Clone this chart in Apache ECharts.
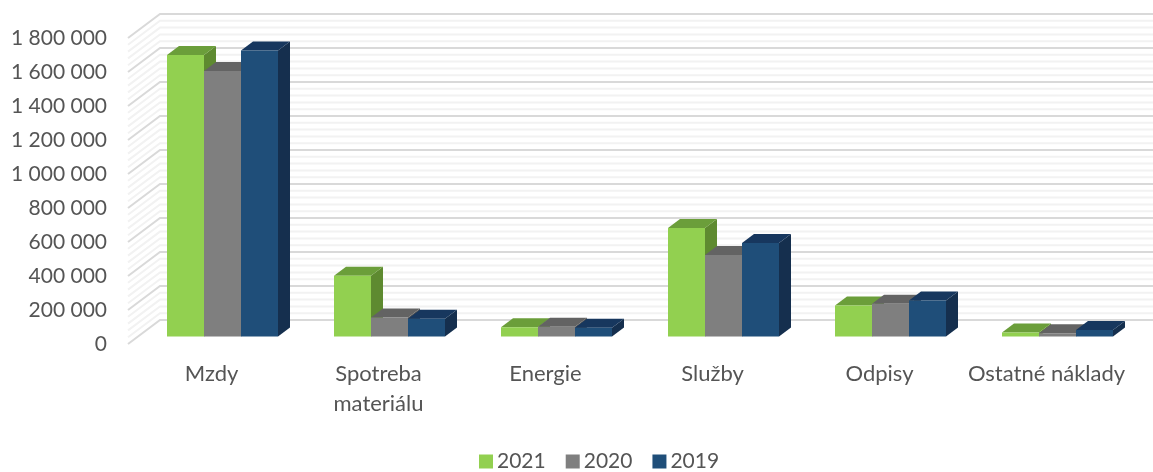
<!DOCTYPE html>
<html>
<head>
<meta charset="utf-8">
<script src="https://cdn.jsdelivr.net/npm/echarts@6/dist/echarts.min.js"></script>
<style>
html,body{margin:0;padding:0;background:#fff;}
#main{width:1153px;height:472px;}
</style>
</head>
<body>
<div id="main"></div>
<script>
var categories = ['Mzdy', 'Spotreba\nmateriálu', 'Energie', 'Služby', 'Odpisy', 'Ostatné náklady'];
var years = ['2021', '2020', '2019'];
var values2021 = [1656000, 358000, 54000, 638000, 182000, 23000];
var values2020 = [1562000, 112000, 58000, 480000, 192000, 19000];
var values2019 = [1682000, 104000, 52000, 550000, 212000, 38000];
var wallTicks = [];
for (var t = 0; t <= 1800000; t += 40000) {
    wallTicks.push(t);
}

// front, top, side colours of the fake 3d bars
var colors2021 = ['#92d050', '#6b9e3a', '#5e8a30'];
var colors2020 = ['#7f7f7f', '#636363', '#555555'];
var colors2019 = ['#1f4e79', '#17375e', '#152f4e'];

// depth of the whole box and of a bar, in pixels
var boxDx = 32, boxDy = -24;
var barDx = 12, barDy = -9;
var barShiftX = 11, barShiftY = -7.5;
var barWidth = 37;

function wallItem(params, api) {
    var sys = params.coordSys;
    var p = api.coord([0, api.value(1)]);
    var major = api.value(1) % 200000 === 0;
    var style = { stroke: major ? '#d9d9d9' : '#f2f2f2', lineWidth: 2, fill: null };
    return {
        type: 'polyline',
        shape: { points: [
            [sys.x, p[1]],
            [sys.x + boxDx, p[1] + boxDy],
            [sys.x + sys.width + boxDx, p[1] + boxDy]
        ] },
        style: style,
        silent: true
    };
}

function barRender(order, colors) {
    return function (params, api) {
        var top = api.coord([api.value(0), api.value(1)]);
        var base = api.coord([api.value(0), 0]);
        var x = top[0] + barShiftX + (order - 1.5) * barWidth;
        var y0 = top[1] + barShiftY;
        var y1 = base[1] + barShiftY;
        var x1 = x + barWidth;
        return {
            type: 'group',
            children: [
                { type: 'polygon', shape: { points: [[x1, y0], [x1 + barDx, y0 + barDy], [x1 + barDx, y1 + barDy], [x1, y1]] }, style: { fill: colors[2] } },
                { type: 'polygon', shape: { points: [[x, y0], [x + barDx, y0 + barDy], [x1 + barDx, y0 + barDy], [x1, y0]] }, style: { fill: colors[1] } },
                { type: 'rect', shape: { x: x, y: y0, width: barWidth, height: y1 - y0 }, style: { fill: colors[0] } }
            ]
        };
    };
}

function pairs(values) {
    return values.map(function (v, i) { return [i, v]; });
}

var chart = echarts.init(document.getElementById('main'));
var font = 'Lato';
var textColor = '#555555';
var option = {
    animation: false,
    backgroundColor: '#fff',
    textStyle: { fontFamily: font },
    legend: {
        data: years,
        left: 479,
        top: 451,
        padding: 0,
        itemWidth: 14,
        itemHeight: 14,
        itemGap: 20,
        icon: 'rect',
        textStyle: { color: textColor, fontSize: 21, fontFamily: font, padding: [0, 0, 0, -1] }
    },
    grid: { left: 128, top: 38, width: 1002, height: 306 },
    xAxis: {
        type: 'category',
        data: categories,
        axisLine: { show: false },
        axisTick: { show: false },
        axisLabel: { color: textColor, fontSize: 22, fontFamily: font, lineHeight: 30, margin: 15, interval: 0 }
    },
    yAxis: {
        type: 'value',
        min: 0,
        max: 1800000,
        interval: 200000,
        axisLine: { show: false },
        axisTick: { show: false },
        splitLine: { show: false },
        axisLabel: {
            color: textColor, fontSize: 21, fontFamily: font, margin: 21,
            formatter: function (v) { return String(v).replace(/\B(?=(\d{3})+$)/g, ' '); }
        }
    },
    series: [
        { type: 'custom', name: 'wall', data: wallTicks.map(function (v) { return [0, v]; }), renderItem: wallItem, encode: { x: 0, y: 1 }, silent: true, z: 1 },
        { type: 'custom', name: years[0], data: pairs(values2021), renderItem: barRender(0, colors2021), encode: { x: 0, y: 1 }, itemStyle: { color: colors2021[0] }, z: 2 },
        { type: 'custom', name: years[1], data: pairs(values2020), renderItem: barRender(1, colors2020), encode: { x: 0, y: 1 }, itemStyle: { color: colors2020[0] }, z: 3 },
        { type: 'custom', name: years[2], data: pairs(values2019), renderItem: barRender(2, colors2019), encode: { x: 0, y: 1 }, itemStyle: { color: colors2019[0] }, z: 4 }
    ]
};
chart.setOption(option);
</script>
</body>
</html>
